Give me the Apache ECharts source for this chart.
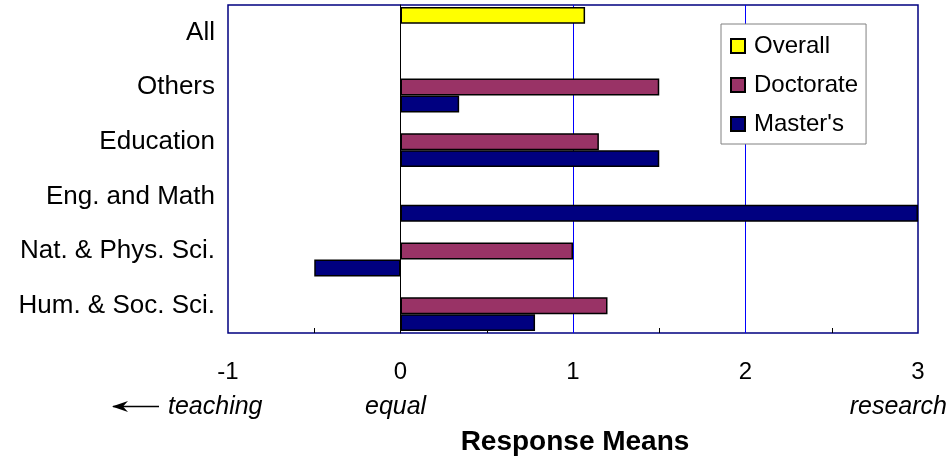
<!DOCTYPE html>
<html>
<head>
<meta charset="utf-8">
<script src="https://cdn.jsdelivr.net/npm/echarts@6/dist/echarts.min.js"></script>
<style>
  html, body { margin: 0; padding: 0; background: #fff; }
  #chart { width: 951px; height: 456px; }
</style>
</head>
<body>
<div id="chart"></div>
<script>
// Fields of study, listed bottom to top
const categories = ['Hum. & Soc. Sci.', 'Nat. & Phys. Sci.', 'Eng. and Math', 'Education', 'Others', 'All'];
// Mean responses per group (null = no bar)
const overall   = [null, null, null, null, null, 1.07];
const doctorate = [1.2, 1.0, null, 1.15, 1.5, null];
const masters   = [0.78, -0.5, 3.0, 1.5, 0.34, null];
// Scale end points
const scaleMin = -1;
const scaleMax = 3;
// Words placed under the scale
const leftWord = 'teaching';
const midWord = 'equal';
const rightWord = 'research';
const axisTitle = 'Response Means';

const FONT = '"Liberation Sans", Arial, sans-serif';

const chart = echarts.init(document.getElementById('chart'), null, { renderer: 'canvas' });

const barBorder = { borderColor: '#000000', borderWidth: 1.5 };

chart.setOption({
  animation: false,
  backgroundColor: '#ffffff',
  textStyle: { fontFamily: FONT },
  grid: {
    left: 228, right: 33, top: 5, bottom: 123,
    show: true,
    borderColor: '#000080',
    borderWidth: 1.5,
    backgroundColor: '#ffffff'
  },
  xAxis: [
    {
      type: 'value',
      min: scaleMin,
      max: scaleMax,
      interval: 1,
      axisLine: { show: false, onZero: false },
      axisTick: { show: false, inside: true },
      minorTick: { show: true, splitNumber: 2, length: 5, lineStyle: { color: '#000000', width: 1 } },
      axisLabel: { color: '#000000', fontSize: 24, fontFamily: FONT, margin: 27 },
      splitLine: { show: false }
    },
    {
      // blue grid lines at whole units
      type: 'value',
      position: 'bottom',
      min: scaleMin,
      max: scaleMax,
      interval: 1,
      axisLine: { show: false, onZero: false },
      axisTick: { show: false },
      axisLabel: { show: false },
      splitLine: { show: true, showMinLine: false, showMaxLine: false, lineStyle: { color: '#0000ff', width: 1 } }
    }
  ],
  yAxis: [
    {
      type: 'category',
      data: categories,
      position: 'left',
      axisLine: { show: false, onZero: false },
      axisTick: { show: false },
      axisLabel: { color: '#000000', fontSize: 26, fontFamily: FONT, margin: 13 },
      splitLine: { show: false }
    },
    {
      // zero line of the scale
      type: 'category',
      data: categories,
      axisLine: { show: true, onZero: true, lineStyle: { color: '#000000', width: 1 } },
      axisTick: { show: false },
      axisLabel: { show: false },
      splitLine: { show: false }
    }
  ],
  legend: {
    orient: 'vertical',
    left: 721,
    top: 24,
    padding: [10, 8, 8, 9],
    itemWidth: 14,
    itemHeight: 14,
    itemGap: 15,
    backgroundColor: '#ffffff',
    borderColor: '#808080',
    borderWidth: 1,
    icon: 'rect',
    textStyle: { color: '#000000', fontSize: 24, fontFamily: FONT, padding: [0, 0, 0, 4] },
    data: ['Overall', 'Doctorate', "Master's"]
  },
  title: {
    text: axisTitle,
    left: 570,
    top: 423,
    textAlign: 'center',
    textStyle: { fontSize: 28, fontWeight: 'bold', color: '#000000', fontFamily: FONT }
  },
  graphic: [
    { type: 'text', left: 168, top: 395, style: { text: leftWord, fontSize: 25, fontStyle: 'italic', fontFamily: FONT, fill: '#000000' } },
    { type: 'text', left: 365, top: 395, style: { text: midWord, fontSize: 25, fontStyle: 'italic', fontFamily: FONT, fill: '#000000' } },
    { type: 'text', right: 4, top: 395, style: { text: rightWord, fontSize: 25, fontStyle: 'italic', fontFamily: FONT, fill: '#000000' } },
    { type: 'line', shape: { x1: 113, y1: 406.5, x2: 159, y2: 406.5 }, style: { stroke: '#000000', lineWidth: 1.5 } },
    { type: 'polygon', shape: { points: [[112, 406.5], [128, 401], [123, 406.5], [128, 412]] }, style: { fill: '#000000' } }
  ],
  series: [
    { name: 'Overall', type: 'bar', data: overall, barGap: '0%', barCategoryGap: '7%',
      itemStyle: Object.assign({ color: '#ffff00' }, barBorder) },
    { name: 'Doctorate', type: 'bar', data: doctorate, barGap: '0%', barCategoryGap: '7%',
      itemStyle: Object.assign({ color: '#993366' }, barBorder) },
    { name: "Master's", type: 'bar', data: masters, barGap: '0%', barCategoryGap: '7%',
      itemStyle: Object.assign({ color: '#000080' }, barBorder) }
  ]
});
</script>
</body>
</html>
